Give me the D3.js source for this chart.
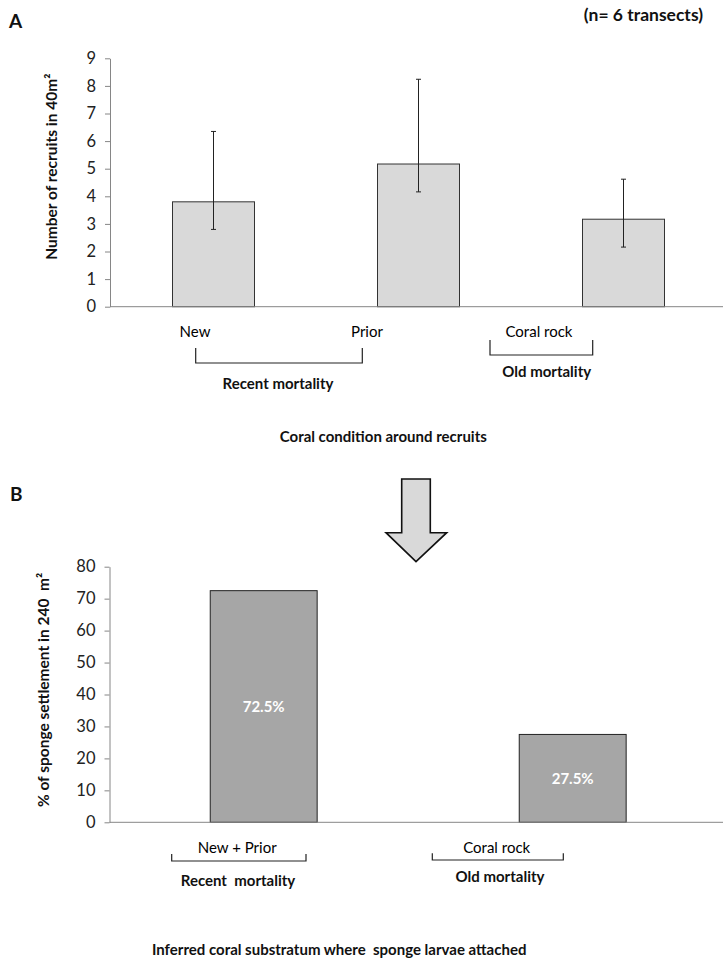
<!DOCTYPE html>
<html>
<head>
<meta charset="utf-8">
<script src="https://cdn.jsdelivr.net/npm/d3@7"></script>
<style>
  body { margin: 0; background: #fff; }
  svg { display: block; font-family: Lato, "Open Sans", sans-serif; }
  .axis path, .axis line { stroke: #868686; }
  .axis text { font-size: 16.5px; fill: #222; font-family: Lato, sans-serif; }
  .bold { font-weight: bold; fill: #111; }
</style>
</head>
<body>
<svg width="723" height="961"></svg>
<script>
// panel A data
const catsA = ["New", "Prior", "Coral rock"];
const meanA = [3.8, 5.17, 3.17];
const errHiA = [6.35, 8.24, 4.62];
const errLoA = [2.8, 4.16, 2.16];
const ticksA = [0, 1, 2, 3, 4, 5, 6, 7, 8, 9];

// panel B data
const catsB = ["New + Prior", "Coral rock"];
const pctB = [72.5, 27.5];
const ticksB = [0, 10, 20, 30, 40, 50, 60, 70, 80];

const svg = d3.select("svg");

// ---------- panel A ----------
let xA = d3.scaleBand().domain(catsA).range([111, 726]).paddingInner(0.6).paddingOuter(0.3),
  yA = d3.scaleLinear().domain([0, 9]).range([306.7, 58.3]);

let gA = svg.append("g");

gA.append("g")
  .attr("class", "axis")
  .attr("transform", "translate(110,0)")
  .call(d3.axisLeft(yA).tickValues(ticksA).tickSize(5).tickSizeOuter(0).tickPadding(9));

gA.selectAll(".barA")
  .data(catsA)
  .enter()
  .append("rect")
  .attr("class", "barA")
  .attr("x", d => xA(d))
  .attr("y", (d, i) => yA(meanA[i]))
  .attr("width", xA.bandwidth())
  .attr("height", (d, i) => yA(0) - yA(meanA[i]))
  .style("fill", "#d9d9d9")
  .style("stroke", "#333")
  .style("stroke-width", 1);

gA.append("line")
  .attr("x1", 110).attr("x2", 723)
  .attr("y1", yA(0)).attr("y2", yA(0))
  .style("stroke", "#868686");

let err = gA.selectAll(".err")
  .data(catsA)
  .enter()
  .append("g")
  .attr("class", "err")
  .style("stroke", "#222")
  .style("stroke-width", 1);

err.append("line")
  .attr("x1", d => xA(d) + xA.bandwidth() / 2)
  .attr("x2", d => xA(d) + xA.bandwidth() / 2)
  .attr("y1", (d, i) => yA(errHiA[i]))
  .attr("y2", (d, i) => yA(errLoA[i]));

[errHiA, errLoA].forEach(arr => {
  err.append("line")
    .attr("x1", d => xA(d) + xA.bandwidth() / 2 - 2.5)
    .attr("x2", d => xA(d) + xA.bandwidth() / 2 + 2.5)
    .attr("y1", (d, i) => yA(arr[i]))
    .attr("y2", (d, i) => yA(arr[i]));
});

// category labels (offset text boxes, as in original)
let labOffA = [-18.5, -51.5, -84.5];
gA.selectAll(".catA")
  .data(catsA)
  .enter()
  .append("text")
  .attr("class", "catA")
  .attr("x", (d, i) => xA(d) + xA.bandwidth() / 2 + labOffA[i])
  .attr("y", 337)
  .attr("text-anchor", "middle")
  .style("font-size", "15px")
  .text(d => d);

function bracket(g, x1, x2, y1, y2) {
  g.append("path")
    .attr("d", "M" + x1 + "," + y1 + "V" + y2 + "H" + x2 + "V" + y1)
    .style("fill", "none")
    .style("stroke", "#222")
    .style("stroke-width", 1.2);
}

bracket(gA, 195.7, 362.3, 348, 363);
bracket(gA, 490, 592.7, 340, 355);

gA.append("text").attr("class", "bold").attr("x", 278).attr("y", 389)
  .attr("text-anchor", "middle").style("font-size", "15px").text("Recent mortality");
gA.append("text").attr("class", "bold").attr("x", 546.7).attr("y", 377)
  .attr("text-anchor", "middle").style("font-size", "15px").text("Old mortality");
gA.append("text").attr("class", "bold").attr("x", 383.3).attr("y", 442)
  .attr("text-anchor", "middle").style("font-size", "15px").text("Coral condition around recruits");

gA.append("text").attr("class", "bold").attr("x", 9).attr("y", 28)
  .style("font-size", "19px").text("A");
gA.append("text").attr("class", "bold").attr("x", 703).attr("y", 21)
  .attr("text-anchor", "end").style("font-size", "17.5px").text("(n= 6 transects)");

gA.append("text").attr("class", "bold")
  .attr("transform", "translate(57,166.7) rotate(-90)")
  .attr("text-anchor", "middle").style("font-size", "15.5px")
  .text("Number of recruits in 40m²");

// arrow between panels
svg.append("path")
  .attr("d", "M401.7,479 H430.3 V532.7 H446.7 L416,561.7 L386,532.7 H401.7 Z")
  .style("fill", "#d9d9d9")
  .style("stroke", "#111")
  .style("stroke-width", 1.6);

// ---------- panel B ----------
let xB = d3.scaleBand().domain(catsB).range([109.2, 727.2]).paddingInner(0.654).paddingOuter(0.327),
  yB = d3.scaleLinear().domain([0, 80]).range([822.3, 566.7]);

let gB = svg.append("g");

gB.append("g")
  .attr("class", "axis")
  .attr("transform", "translate(109.5,0)")
  .call(d3.axisLeft(yB).tickValues(ticksB).tickSize(5).tickSizeOuter(0).tickPadding(9));

gB.selectAll(".barB")
  .data(catsB)
  .enter()
  .append("rect")
  .attr("class", "barB")
  .attr("x", d => xB(d))
  .attr("y", (d, i) => yB(pctB[i]))
  .attr("width", xB.bandwidth())
  .attr("height", (d, i) => yB(0) - yB(pctB[i]))
  .style("fill", "#a6a6a6")
  .style("stroke", "#222")
  .style("stroke-width", 1);

gB.append("line")
  .attr("x1", 109.5).attr("x2", 723)
  .attr("y1", yB(0)).attr("y2", yB(0))
  .style("stroke", "#868686");

gB.selectAll(".pct")
  .data(catsB)
  .enter()
  .append("text")
  .attr("class", "pct")
  .attr("x", d => xB(d) + xB.bandwidth() / 2)
  .attr("y", (d, i) => (yB(pctB[i]) + yB(0)) / 2 + 5.5)
  .attr("text-anchor", "middle")
  .style("font-size", "15px")
  .style("font-weight", "bold")
  .style("fill", "#fff")
  .text((d, i) => pctB[i] + "%");

let labOffB = [-26.5, -76];
gB.selectAll(".catB")
  .data(catsB)
  .enter()
  .append("text")
  .attr("class", "catB")
  .attr("x", (d, i) => xB(d) + xB.bandwidth() / 2 + labOffB[i])
  .attr("y", 853)
  .attr("text-anchor", "middle")
  .style("font-size", "15px")
  .text(d => d);

bracket(gB, 171.7, 306, 854, 861);
bracket(gB, 432.3, 563.3, 853.3, 860);

gB.append("text").attr("class", "bold").attr("x", 238).attr("y", 885.5)
  .attr("text-anchor", "middle").style("font-size", "15px").style("white-space", "pre")
  .text("Recent  mortality");
gB.append("text").attr("class", "bold").attr("x", 500).attr("y", 882)
  .attr("text-anchor", "middle").style("font-size", "15px").text("Old mortality");
gB.append("text").attr("class", "bold").attr("x", 339.2).attr("y", 955)
  .attr("text-anchor", "middle").style("font-size", "15px").style("white-space", "pre")
  .text("Inferred coral substratum where  sponge larvae attached");

gB.append("text").attr("class", "bold").attr("x", 10).attr("y", 500.5)
  .style("font-size", "19px").text("B");

gB.append("text").attr("class", "bold")
  .attr("transform", "translate(49,690) rotate(-90)")
  .attr("text-anchor", "middle").style("font-size", "15.5px").style("white-space", "pre")
  .text("% of sponge settlement in 240  m²");
</script>
</body>
</html>
